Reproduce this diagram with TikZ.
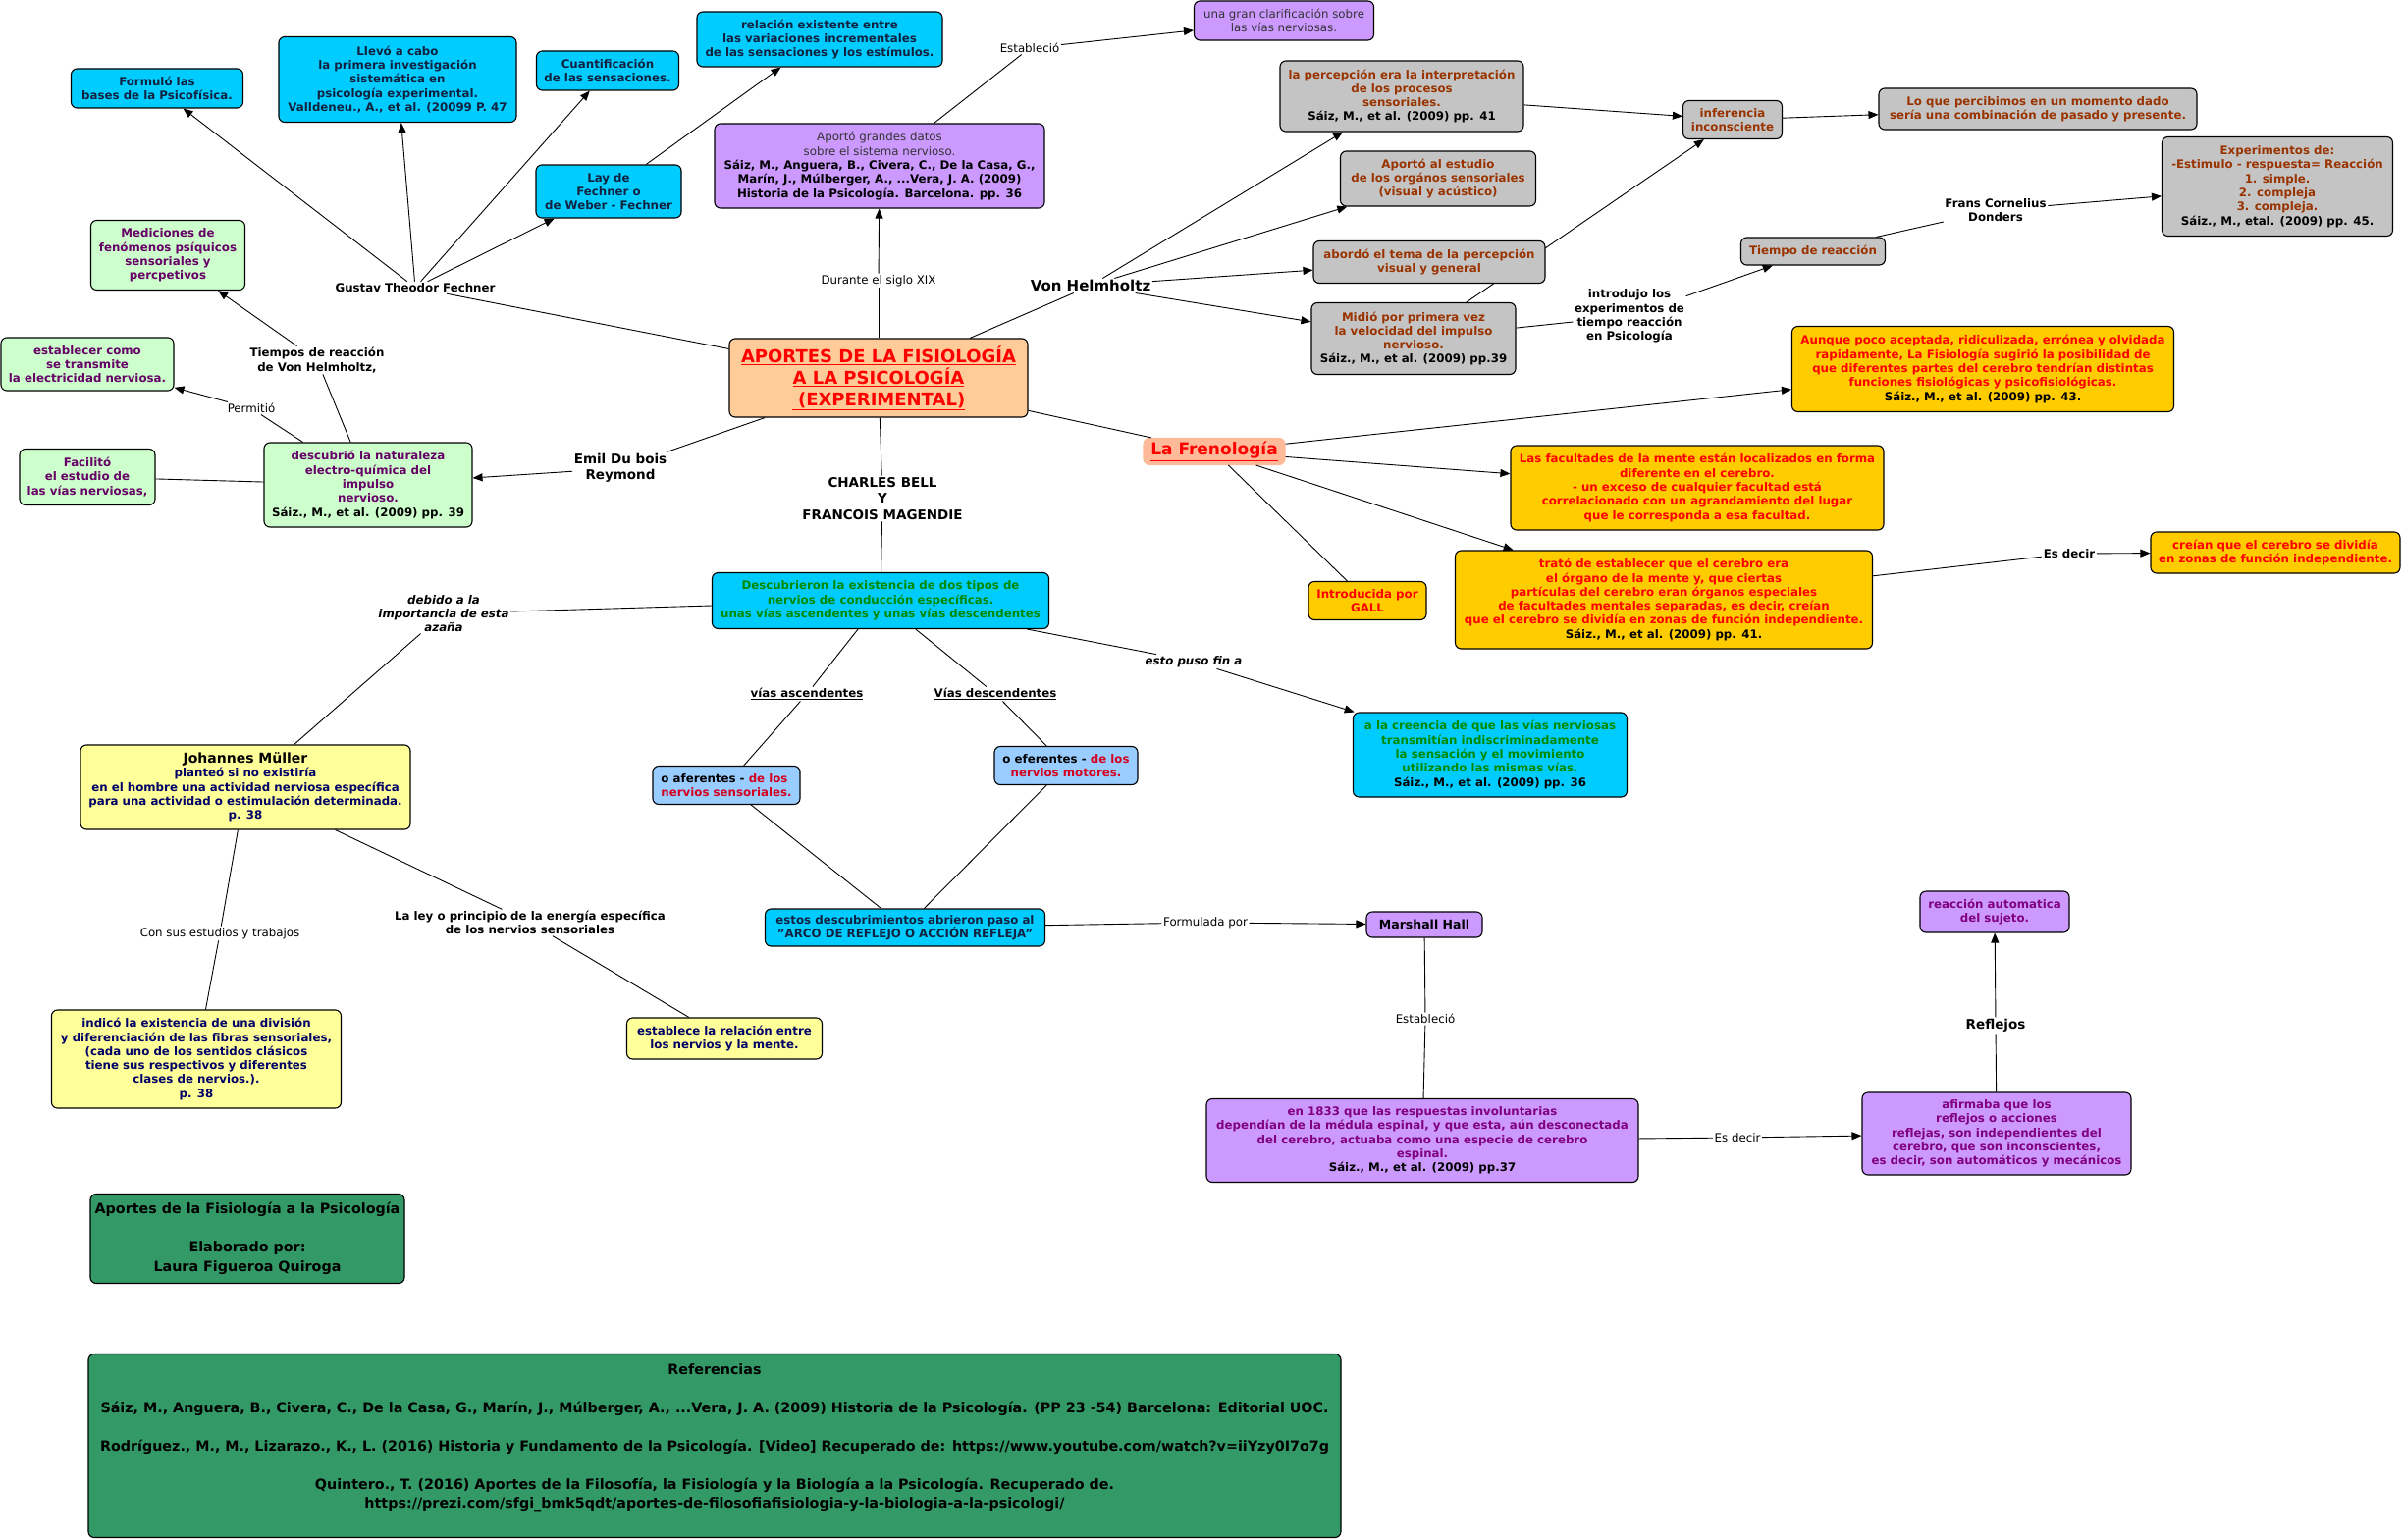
\documentclass[tikz,border=0pt]{standalone}
\usepackage{fontspec}
\setmainfont{DejaVu Sans}
\usetikzlibrary{arrows.meta}

\definecolor{mapcyan}{HTML}{00CCFF}
\definecolor{mapink}{HTML}{10223F}
\definecolor{mapmint}{HTML}{CCFFCC}
\definecolor{mapplum}{HTML}{660066}
\definecolor{maplilac}{HTML}{CC99FF}
\definecolor{mapviolet}{HTML}{800080}
\definecolor{mapdark}{HTML}{333333}
\definecolor{mapgrey}{HTML}{C4C4C4}
\definecolor{mapbrown}{HTML}{993300}
\definecolor{mapgold}{HTML}{FFCC00}
\definecolor{mappeach}{HTML}{FFCC99}
\definecolor{mapsalmon}{HTML}{FFBB99}
\definecolor{maplemon}{HTML}{FFFF99}
\definecolor{mapnavy}{HTML}{000066}
\definecolor{mapsky}{HTML}{99CCFF}
\definecolor{mapsea}{HTML}{339966}
\definecolor{mapleaf}{HTML}{008A00}
\definecolor{mapcrimson}{HTML}{D40020}

\tikzset{
  concept/.style={draw=black, line width=1.1pt, rounded corners=6pt, align=center, inner sep=2pt,
    font=\bfseries\fontsize{11.8}{14.3}\selectfont},
  cyanbox/.style={concept, fill=mapcyan, text=mapink},
  mintbox/.style={concept, fill=mapmint, text=mapplum},
  lilacbox/.style={concept, fill=maplilac, text=mapviolet},
  greybox/.style={concept, fill=mapgrey, text=mapbrown},
  goldbox/.style={concept, fill=mapgold, text=red},
  lemonbox/.style={concept, fill=maplemon, text=mapnavy},
  skybox/.style={concept, fill=mapsky, text=black},
  seabox/.style={concept, fill=mapsea, text=black, font=\bfseries\fontsize{14.3}{19.5}\selectfont},
  link/.style={inner sep=1.5pt, align=center, font=\bfseries\fontsize{11.8}{14.3}\selectfont},
  thinlink/.style={link, font=\fontsize{11.8}{14.3}\selectfont},
  slantlink/.style={link, font=\bfseries\itshape\fontsize{11.8}{14.3}\selectfont},
  biglink/.style={link, font=\bfseries\fontsize{13.5}{16.5}\selectfont},
  con/.style={line width=0.9pt},
  arr/.style={con, -{Triangle[length=10pt,width=8pt]}},
}

\begin{document}
\begin{tikzpicture}[x=1pt,y=-1pt]
    % Canvas
    \useasboundingbox[fill=white] (0,0) rectangle (2448,1568);

    % Central concept
    \node[concept, fill=mappeach, text=red, font=\bfseries\fontsize{18}{22}\selectfont,
      minimum width=304pt, minimum height=80pt] (main) at (895,385)
      {\underline{APORTES DE LA FISIOLOGÍA}\\\underline{A LA PSICOLOGÍA}\\\underline{ (EXPERIMENTAL)}};

    % Fechner branch
    \node[cyanbox, minimum width=175pt, minimum height=40pt] (formulo) at (160,90)
      {Formuló las\\bases de la Psicofísica.};
    \node[cyanbox, minimum width=242pt, minimum height=87pt] (llevo) at (405,81)
      {Llevó a cabo\\la primera investigación\\sistemática en\\psicología experimental.\\Valldeneu., A., et al. (20099 P. 47};
    \node[cyanbox, minimum width=145pt, minimum height=40pt] (cuanti) at (619,72)
      {Cuantificación\\de las sensaciones.};
    \node[cyanbox, minimum width=148pt, minimum height=54pt] (weber) at (620,195)
      {Lay de\\Fechner o\\de Weber - Fechner};
    \node[cyanbox, minimum width=250pt, minimum height=56pt] (relacion) at (835,40)
      {relación existente entre\\las variaciones incrementales\\de las sensaciones y los estímulos.};
    \node[link] (fechnerL) at (423,293) {Gustav Theodor Fechner};

    % Siglo XIX branch
    \node[lilacbox, text=black, minimum width=336pt, minimum height=86pt] (aporto) at (896,169)
      {\textcolor{mapdark}{\mdseries Aportó grandes datos}\\\textcolor{mapdark}{\mdseries sobre el sistema nervioso.}\\Sáiz, M., Anguera, B., Civera, C., De la Casa, G.,\\Marín, J., Múlberger, A., ...Vera, J. A. (2009)\\Historia de la Psicología. Barcelona. pp. 36};
    \node[lilacbox, text=mapdark, font=\fontsize{11.8}{14.3}\selectfont, minimum width=183pt, minimum height=40pt] (clarif) at (1308,21)
      {una gran clarificación sobre\\las vías nerviosas.};
    \node[thinlink] (duranteL) at (895,286) {Durante el siglo XIX};
    \node[thinlink] (establecioL) at (1049,49) {Estableció};

    % Helmholtz branch
    \node[greybox, minimum width=248pt, minimum height=72pt] (percep) at (1428,98)
      {la percepción era la interpretación\\de los procesos\\sensoriales.\\\textcolor{black}{Sáiz, M., et al. (2009) pp. 41}};
    \node[greybox, minimum width=199pt, minimum height=56pt] (estudio) at (1465,182)
      {Aportó al estudio\\de los orgános sensoriales\\(visual y acústico)};
    \node[greybox, minimum width=208pt, minimum height=73pt] (midio) at (1440,345)
      {Midió por primera vez\\la velocidad del impulso\\nervioso.\\\textcolor{black}{Sáiz., M., et al. (2009) pp.39}};
    \node[greybox, minimum width=101pt, minimum height=39pt] (inferencia) at (1765,122)
      {inferencia\\inconsciente};
    % this line runs behind the next box
    \draw[arr] (midio) -- (inferencia);
    \node[greybox, minimum width=236pt, minimum height=43pt] (abordo) at (1456,267)
      {abordó el tema de la percepción\\visual y general};
    \node[greybox, minimum width=324pt, minimum height=42pt] (loque) at (2076,111)
      {Lo que percibimos en un momento dado\\sería una combinación  de pasado y presente.};
    \node[greybox, minimum width=147pt, minimum height=28pt] (tiempo) at (1847,256)
      {Tiempo de reacción};
    \node[greybox, minimum width=235pt, minimum height=101pt] (experim) at (2320,190)
      {Experimentos de:\\-Estimulo - respuesta= Reacción\\1. simple.\\2. compleja\\3. compleja.\\\textcolor{black}{Sáiz., M., etal. (2009) pp. 45.}};
    \node[link, font=\bfseries\fontsize{15}{18}\selectfont] (helmholtzL) at (1111,291) {Von Helmholtz};
    \node[link] (introdujoL) at (1660,322) {introdujo los\\experimentos de\\tiempo reacción\\en Psicología};
    \node[link] (dondersL) at (2033,214) {Frans Cornelius\\Donders};

    % Frenologia branch
    \node[concept, draw=mapsalmon, fill=mapsalmon, text=red, font=\bfseries\fontsize{17}{20}\selectfont,
      minimum width=144pt, minimum height=27pt] (freno) at (1237,460) {\underline{La Frenología}};
    \node[goldbox, minimum width=389pt, minimum height=87pt] (aunque) at (2020,376)
      {Aunque poco aceptada, ridiculizada, errónea y olvidada\\rapidamente, La Fisiología sugirió la posibilidad de\\que diferentes partes del cerebro tendrían distintas\\funciones fisiológicas y psicofisiológicas.\\\textcolor{black}{Sáiz., M., et al. (2009) pp. 43.}};
    \node[goldbox, minimum width=380pt, minimum height=86pt] (facultad) at (1729,497)
      {Las facultades de la mente están localizados en forma\\diferente en el cerebro.\\- un exceso de cualquier facultad está\\correlacionado con un agrandamiento del lugar\\que le corresponda a esa facultad.};
    \node[goldbox, minimum width=425pt, minimum height=100pt] (trato) at (1695,611)
      {trató de establecer que el cerebro era\\el órgano de la mente y, que ciertas\\partículas del cerebro eran órganos especiales\\de facultades mentales separadas, es decir, creían\\que el cerebro se dividía en zonas de función independiente.\\\textcolor{black}{Sáiz., M., et al. (2009) pp. 41.}};
    \node[goldbox, minimum width=120pt, minimum height=39pt] (gall) at (1393,612)
      {Introducida por\\GALL};
    \node[goldbox, minimum width=254pt, minimum height=42pt] (creian) at (2318,563)
      {creían que el cerebro se dividía\\en zonas de función independiente.};
    \node[link] (esdecirL) at (2108,564) {Es decir};

    % Du Bois Reymond branch
    \node[mintbox, minimum width=157pt, minimum height=71pt] (medicion) at (171,260)
      {Mediciones de\\fenómenos psíquicos\\sensoriales y\\percpetivos};
    \node[mintbox, minimum width=176pt, minimum height=54pt] (establecer) at (89,371)
      {establecer como\\se transmite\\la electricidad nerviosa.};
    \node[mintbox, minimum width=138pt, minimum height=57pt] (facilito) at (89,486)
      {Facilitó\\el estudio de\\las vías nerviosas,};
    \node[mintbox, minimum width=212pt, minimum height=86pt] (descubrio) at (375,494)
      {descubrió la naturaleza\\electro-química del\\impulso\\nervioso.\\\textcolor{black}{Sáiz., M., et al. (2009) pp. 39}};
    \node[biglink] (emilL) at (632,477) {Emil Du bois\\Reymond};
    \node[link] (tiemposL) at (323,367) {Tiempos de reacción\\de Von Helmholtz,};
    \node[thinlink] (permitioL) at (256,416) {Permitió};

    % Bell y Magendie branch
    \node[cyanbox, text=mapleaf, minimum width=343pt, minimum height=57pt] (descubrieron) at (897,612)
      {Descubrieron la existencia de dos tipos de\\nervios de conducción específicas.\\unas vías ascendentes y unas vías descendentes};
    \node[skybox, align=left, minimum width=150pt, minimum height=39pt] (aferente) at (740,800)
      {o aferentes - \textcolor{mapcrimson}{de los}\\\textcolor{mapcrimson}{nervios sensoriales.}};
    \node[skybox, minimum width=146pt, minimum height=39pt] (eferente) at (1086,780)
      {o eferentes - \textcolor{mapcrimson}{de los}\\\textcolor{mapcrimson}{nervios motores.}};
    \node[cyanbox, text=mapleaf, minimum width=279pt, minimum height=86pt] (creencia) at (1518,769)
      {a la creencia de que las vías nerviosas\\transmitían indiscriminadamente\\la sensación y el movimiento\\utilizando las mismas vías.\\\textcolor{black}{Sáiz., M., et al. (2009) pp. 36}};
    \node[cyanbox, minimum width=285pt, minimum height=38pt] (arco) at (922,945)
      {estos descubrimientos abrieron paso al\\"ARCO DE REFLEJO O ACCIÓN REFLEJA"};
    \node[biglink] (bellL) at (899,508) {CHARLES BELL\\Y\\FRANCOIS MAGENDIE};
    \node[slantlink] (debidoL) at (452,625) {debido a la\\importancia de esta\\azaña};
    \node[link] (ascL) at (822,707) {\underline{vías ascendentes}};
    \node[link] (descL) at (1014,707) {\underline{Vías descendentes}};
    \node[slantlink] (finL) at (1216,674) {esto puso fin a};

    % Marshall Hall branch
    \node[lilacbox, text=black, font=\bfseries\fontsize{12.5}{15}\selectfont, minimum width=118pt, minimum height=26pt] (marshall) at (1451,942)
      {Marshall Hall};
    \node[lilacbox, minimum width=440pt, minimum height=85pt] (anio) at (1449,1162)
      {en 1833 que las respuestas involuntarias\\dependían de la médula espinal, y que esta, aún desconectada\\del cerebro, actuaba como una especie de cerebro\\espinal.\\\textcolor{black}{Sáiz., M., et al. (2009) pp.37}};
    \node[lilacbox, minimum width=274pt, minimum height=84pt] (afirmaba) at (2034,1155)
      {afirmaba que los\\reflejos o acciones\\reflejas, son independientes del\\cerebro, que son inconscientes,\\es decir, son automáticos y mecánicos};
    \node[lilacbox, minimum width=152pt, minimum height=42pt] (reaccion) at (2032,929)
      {reacción automatica\\del sujeto.};
    \node[thinlink] (formuladaL) at (1228,940) {Formulada por};
    \node[thinlink] (establecioB) at (1452,1038) {Estableció};
    \node[thinlink] (esdecirB) at (1770,1159) {Es decir};
    \node[biglink] (reflejosL) at (2033,1045) {Reflejos};

    % Muller branch
    \node[lemonbox, minimum width=336pt, minimum height=86pt] (muller) at (250,802)
      {\textcolor{black}{\fontsize{14}{16}\selectfont Johannes Müller}\\planteó si no existiría\\en el hombre una actividad nerviosa específica\\para una actividad o estimulación determinada.\\p. 38};
    \node[lemonbox, minimum width=295pt, minimum height=100pt] (indico) at (200,1079)
      {indicó la existencia  de una división\\y diferenciación de las fibras sensoriales,\\(cada uno de los sentidos clásicos\\tiene sus respectivos y diferentes\\clases de nervios.).\\p. 38};
    \node[lemonbox, minimum width=199pt, minimum height=42pt] (establece) at (738,1058)
      {establece la relación entre\\los nervios y la mente.};
    \node[thinlink] (estudiosL) at (224,951) {Con sus estudios y trabajos};
    \node[link] (leyL) at (540,940) {La ley o principio de la energía específica\\de los nervios sensoriales};

    % Author and references
    \node[seabox, minimum width=320pt, minimum height=91pt] (autor) at (252,1262)
      {Aportes de la Fisiología a la Psicología\\[19.5pt]Elaborado por:\\Laura Figueroa Quiroga};
    \node[seabox, minimum width=1276pt, minimum height=187pt] (refs) at (728,1473)
      {Referencias\\[19.5pt]Sáiz, M., Anguera, B., Civera, C., De la Casa, G., Marín, J., Múlberger, A., ...Vera, J. A. (2009) Historia de la Psicología. (PP 23 -54) Barcelona: Editorial UOC.\\[19.5pt]Rodríguez., M., M., Lizarazo., K., L. (2016) Historia y Fundamento de la Psicología. [Video] Recuperado de: https://www.youtube.com/watch?v=iiYzy0I7o7g\\[19.5pt]Quintero., T. (2016) Aportes de la Filosofía, la Fisiología y la Biología a la Psicología. Recuperado de.\\https://prezi.com/sfgi\_bmk5qdt/aportes-de-filosofiafisiologia-y-la-biologia-a-la-psicologi/\\\mbox{}};

    % Fechner links
    \draw[con] (main) -- (fechnerL);
    \draw[arr] (fechnerL) -- (formulo);
    \draw[arr] (fechnerL) -- (llevo);
    \draw[arr] (fechnerL) -- (cuanti);
    \draw[arr] (fechnerL) -- (weber);
    \draw[arr] (weber) -- (relacion);

    % Siglo XIX links
    \draw[con] (main) -- (duranteL);
    \draw[arr] (duranteL) -- (aporto);
    \draw[con] (aporto) -- (establecioL);
    \draw[arr] (establecioL) -- (clarif);

    % Helmholtz links
    \draw[con] (main) -- (helmholtzL);
    \draw[arr] (helmholtzL) -- (percep);
    \draw[arr] (helmholtzL) -- (estudio);
    \draw[arr] (helmholtzL) -- (abordo);
    \draw[arr] (helmholtzL) -- (midio);
    \draw[arr] (percep) -- (inferencia);
    \draw[arr] (inferencia) -- (loque);
    \draw[con] (midio) -- (introdujoL);
    \draw[arr] (introdujoL) -- (tiempo);
    \draw[con] (tiempo) -- (dondersL);
    \draw[arr] (dondersL) -- (experim);

    % Frenologia links
    \draw[con] (main) -- (freno);
    \draw[arr] (freno) -- (aunque);
    \draw[arr] (freno) -- (facultad);
    \draw[arr] (freno) -- (trato);
    \draw[con] (freno) -- (gall);
    \draw[con] (trato) -- (esdecirL);
    \draw[arr] (esdecirL) -- (creian);

    % Du Bois Reymond links
    \draw[con] (main) -- (emilL);
    \draw[arr] (emilL) -- (descubrio);
    \draw[con] (descubrio) -- (tiemposL);
    \draw[arr] (tiemposL) -- (medicion);
    \draw[con] (descubrio) -- (permitioL);
    \draw[arr] (permitioL) -- (establecer);
    \draw[con] (descubrio) -- (facilito);

    % Bell y Magendie links
    \draw[con] (main) -- (bellL);
    \draw[con] (bellL) -- (descubrieron);
    \draw[con] (descubrieron) -- (debidoL);
    \draw[con] (debidoL) -- (muller);
    \draw[con] (descubrieron) -- (ascL);
    \draw[con] (ascL) -- (aferente);
    \draw[con] (descubrieron) -- (descL);
    \draw[con] (descL) -- (eferente);
    \draw[con] (descubrieron) -- (finL);
    \draw[arr] (finL) -- (creencia);
    \draw[con] (aferente) -- (arco);
    \draw[con] (eferente) -- (arco);

    % Marshall Hall links
    \draw[con] (arco) -- (formuladaL);
    \draw[arr] (formuladaL) -- (marshall);
    \draw[con] (marshall) -- (establecioB);
    \draw[con] (establecioB) -- (anio);
    \draw[con] (anio) -- (esdecirB);
    \draw[arr] (esdecirB) -- (afirmaba);
    \draw[con] (afirmaba) -- (reflejosL);
    \draw[arr] (reflejosL) -- (reaccion);

    % Muller links
    \draw[con] (muller) -- (estudiosL);
    \draw[con] (estudiosL) -- (indico);
    \draw[con] (muller) -- (leyL);
    \draw[con] (leyL) -- (establece);
\end{tikzpicture}
\end{document}
